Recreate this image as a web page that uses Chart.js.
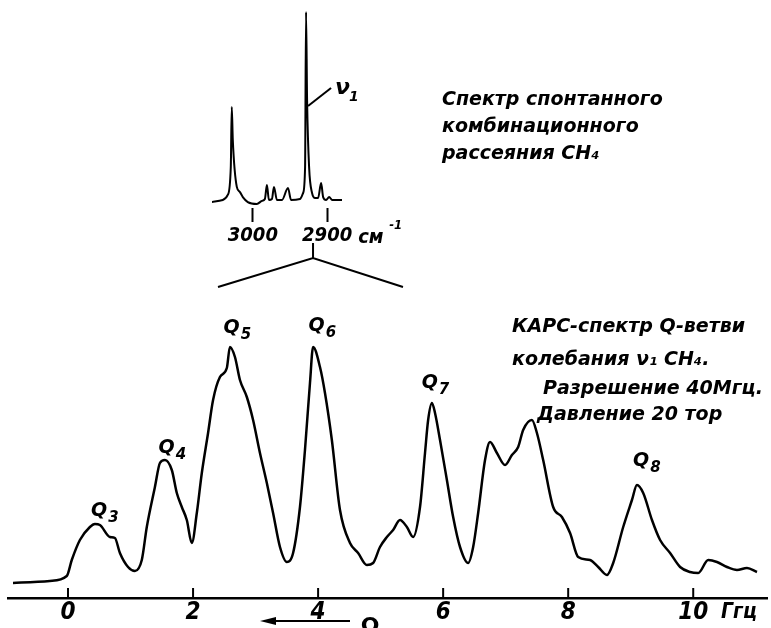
<!DOCTYPE html>
<html>
<head>
<meta charset="utf-8">
<script src="https://cdn.jsdelivr.net/npm/chart.js@4.4.0/dist/chart.umd.min.js"></script>
<style>
  html, body { margin: 0; padding: 0; background: #fff; overflow: hidden; }
  #wrap { position: relative; width: 771px; height: 628px; }
  #main { position: absolute; left: 0; top: 0; width: 771px; height: 628px; }
  #inset { position: absolute; left: 190px; top: 0; width: 240px; height: 300px; }
</style>
</head>
<body>
<div id="wrap">
  <div id="main"><canvas id="carsChart"></canvas></div>
  <div id="inset"><canvas id="ramanChart"></canvas></div>
</div>
<script>
// CARS spectrum of the CH4 Q-branch, frequency offset in GHz
const carsShift = [
  -0.88, -0.29, -0.02, 0.06, 0.19, 0.35, 0.43, 0.51, 0.67, 0.75, 0.83, 0.96,
  1.07, 1.18, 1.26, 1.39, 1.47, 1.55, 1.66, 1.74, 1.82, 1.90, 1.98,
  2.06, 2.14, 2.24, 2.32, 2.43, 2.54, 2.59, 2.67, 2.75, 2.86, 2.96,
  3.07, 3.18, 3.28, 3.39, 3.50, 3.60, 3.71, 3.79, 3.87, 3.92,
  4.03, 4.11, 4.22, 4.35, 4.51, 4.64, 4.78, 4.88, 4.99,
  5.10, 5.20, 5.31, 5.42, 5.52, 5.63, 5.71, 5.76, 5.82, 5.87, 5.95,
  6.06, 6.16, 6.27, 6.40, 6.48, 6.56, 6.67, 6.75, 6.86, 6.99,
  7.10, 7.20, 7.28, 7.42, 7.50, 7.60, 7.76, 7.90,
  8.03, 8.16, 8.35, 8.48, 8.62, 8.72, 8.88,
  9.02, 9.10, 9.20, 9.34, 9.47, 9.63, 9.79, 9.95,
  10.08, 10.24, 10.38, 10.54, 10.70, 10.86, 11.02
];
const carsSignal = [
  6.0, 6.8, 8.8, 15.2, 23.2, 28.4, 29.6, 29.2, 24.4, 24.0, 18.0, 12.4,
  10.8, 15.2, 28.4, 44.4, 54.0, 55.2, 51.2, 42.0, 36.4, 31.2, 22.0,
  34.0, 50.0, 66.0, 79.2, 88.4, 92.0, 100.4, 96.4, 87.2, 80.4, 71.2,
  58.0, 46.0, 34.0, 20.4, 14.4, 18.0, 36.4, 59.2, 86.0, 100.4,
  92.4, 82.0, 63.2, 35.2, 22.0, 18.0, 13.2, 14.0, 20.4,
  24.4, 27.2, 31.2, 28.4, 24.4, 36.4, 58.0, 71.2, 78.0, 74.0, 63.2,
  47.2, 32.4, 20.4, 14.0, 20.4, 34.0, 55.2, 62.4, 58.0, 53.2,
  57.2, 60.4, 67.2, 71.2, 66.0, 55.2, 36.4, 32.4,
  26.0, 16.4, 15.2, 12.4, 9.2, 14.0, 28.4,
  39.2, 45.2, 42.0, 31.2, 23.2, 18.0, 12.4, 10.4,
  10.0, 15.2, 14.4, 12.4, 11.2, 12.0, 10.4
];

// spontaneous Raman spectrum of CH4 (inset), cm-1
const ramanWavenumber = [
  3055.4, 3040.5, 3033.8, 3029.7, 3028.4, 3027.0, 3021.6, 3017.6, 3013.5, 3006.8,
  2994.6, 2987.8, 2983.8, 2981.1, 2978.4, 2974.3, 2971.6, 2967.6, 2960.8, 2952.7,
  2948.6, 2936.5, 2932.4, 2929.7, 2928.4, 2927.0, 2924.3, 2920.3, 2916.2, 2912.2,
  2908.1, 2905.4, 2901.4, 2897.3, 2893.2, 2879.7
];
const ramanSignal = [
  1.0, 2.1, 4.7, 19.3, 50.5, 33.3, 8.9, 6.3, 3.6, 1.0,
  0.0, 1.6, 2.6, 9.9, 2.1, 2.6, 8.9, 2.1, 2.1, 8.3,
  2.1, 2.6, 5.7, 19.3, 100.0, 54.2, 19.3, 5.7, 3.1, 3.1,
  10.9, 3.6, 2.1, 3.6, 2.1, 2.1
];

const hzTicks = [0, 2, 4, 6, 8, 10];
const cmTicks = [3000, 2900];

// Q-branch line labels, placed above each peak
const qNames = ['3', '4', '5', '6', '7', '8'];
const qLabelHz = [0.58, 1.66, 2.70, 4.06, 5.87, 9.25];
const qLabelLevel = [35, 60, 108, 109, 86, 55];

const carsNotes = [
  ['КАРС-спектр Q-ветви', 512, 327],
  ['колебания ν₁ CH₄.', 512, 360],
  ['Разрешение 40Мгц.', 543, 389],
  ['Давление 20 тор', 537, 415]
];
const ramanNotes = [
  ['Спектр спонтанного', 442, 100],
  ['комбинационного', 442, 127],
  ['рассеяния CH₄', 442, 154]
];

const TEXT_FONT = '"DejaVu Sans", sans-serif';
const NARROW_FONT = '"DejaVu Sans Condensed", "Liberation Sans Narrow", "DejaVu Sans", sans-serif';

const carsDecor = {
  id: 'carsDecor',
  afterDraw(chart) {
    const ctx = chart.ctx;
    const xs = chart.scales.x, ys = chart.scales.y;
    const bottom = chart.chartArea.bottom;
    ctx.save();
    ctx.strokeStyle = '#000';
    ctx.fillStyle = '#000';
    ctx.lineWidth = 2;
    // tick marks pointing up from the axis
    hzTicks.forEach(v => {
      const x = xs.getPixelForValue(v);
      ctx.beginPath();
      ctx.moveTo(x, bottom);
      ctx.lineTo(x, bottom - 10);
      ctx.stroke();
    });
    // Q labels
    qNames.forEach((n, i) => {
      const x = xs.getPixelForValue(qLabelHz[i]);
      const y = ys.getPixelForValue(qLabelLevel[i]);
      ctx.font = 'italic bold 19px ' + TEXT_FONT;
      const wq = ctx.measureText('Q').width;
      ctx.font = 'italic bold 15px ' + TEXT_FONT;
      const ws = ctx.measureText(n).width;
      const x0 = x - (wq + ws) / 2;
      ctx.textBaseline = 'alphabetic';
      ctx.textAlign = 'left';
      ctx.font = 'italic bold 19px ' + TEXT_FONT;
      ctx.fillText('Q', x0, y + 5);
      ctx.font = 'italic bold 15px ' + TEXT_FONT;
      ctx.fillText(n, x0 + wq + 1, y + 11);
    });
    // descriptive text
    ctx.font = 'italic bold 19px ' + TEXT_FONT;
    ctx.textBaseline = 'middle';
    carsNotes.forEach(([t, x, y]) => ctx.fillText(t, x, y));
    ramanNotes.forEach(([t, x, y]) => ctx.fillText(t, x, y));
    // unit and direction arrow
    ctx.font = 'italic bold 21px ' + NARROW_FONT;
    ctx.fillText('Ггц', 721, 613);
    ctx.lineWidth = 2;
    ctx.beginPath();
    ctx.moveTo(264, 621);
    ctx.lineTo(350, 621);
    ctx.stroke();
    ctx.beginPath();
    ctx.moveTo(260, 621);
    ctx.lineTo(276, 617);
    ctx.lineTo(276, 625);
    ctx.closePath();
    ctx.fill();
    ctx.font = 'bold 22px ' + TEXT_FONT;
    ctx.textAlign = 'center';
    ctx.fillText('Ω', 370, 627);
    ctx.restore();
  }
};

const ramanDecor = {
  id: 'ramanDecor',
  afterDraw(chart) {
    const ctx = chart.ctx;
    const xs = chart.scales.x, ys = chart.scales.y;
    const ox = 190;
    ctx.save();
    ctx.strokeStyle = '#000';
    ctx.fillStyle = '#000';
    ctx.lineWidth = 2;
    // nu1 leader
    const px = xs.getPixelForValue(2928.4), py = ys.getPixelForValue(51);
    ctx.beginPath();
    ctx.moveTo(px + 2, py);
    ctx.lineTo(px + 25, py - 18);
    ctx.stroke();
    ctx.font = 'italic bold 22px ' + TEXT_FONT;
    ctx.textBaseline = 'middle';
    ctx.textAlign = 'left';
    ctx.fillText('ν', px + 29, py - 18);
    ctx.font = 'italic bold 14px ' + TEXT_FONT;
    ctx.fillText('1', px + 43, py - 9);
    // unit after 2900
    const x29 = xs.getPixelForValue(2900);
    ctx.font = 'italic bold 20px ' + NARROW_FONT;
    ctx.fillText('см', x29 + 31, 238);
    ctx.font = 'italic bold 13px ' + NARROW_FONT;
    ctx.fillText('-1', x29 + 62, 226);
    // bracket pointing to the expanded CARS region
    const ax = xs.getPixelForValue(2919);
    ctx.beginPath();
    ctx.moveTo(ax, 243);
    ctx.lineTo(ax, 258);
    ctx.moveTo(218 - ox, 287);
    ctx.lineTo(ax, 258);
    ctx.lineTo(403 - ox, 287);
    ctx.stroke();
    ctx.restore();
  }
};

new Chart(document.getElementById('carsChart'), {
  type: 'line',
  data: {
    datasets: [{
      data: carsShift.map((x, i) => ({ x: x, y: carsSignal[i] })),
      borderColor: '#000',
      borderWidth: 2.5,
      pointRadius: 0,
      cubicInterpolationMode: 'monotone',
      borderJoinStyle: 'round'
    }]
  },
  options: {
    responsive: true,
    maintainAspectRatio: false,
    animation: false,
    layout: { padding: { left: 8, right: 4, top: 0, bottom: 0 } },
    plugins: { legend: { display: false }, tooltip: { enabled: false } },
    scales: {
      x: {
        type: 'linear',
        min: -0.96,
        max: 11.18,
        afterBuildTicks: s => { s.ticks = hzTicks.map(v => ({ value: v })); },
        border: { display: true, color: '#000', width: 2.5 },
        grid: { drawOnChartArea: false, drawTicks: false },
        ticks: {
          color: '#000',
          padding: 3,
          maxRotation: 0,
          autoSkip: false,
          callback: v => String(v),
          font: { family: NARROW_FONT, size: 24, style: 'italic', weight: 'bold', lineHeight: 1 }
        }
      },
      y: { display: false, min: 0, max: 239.2 }
    }
  },
  plugins: [carsDecor]
});

new Chart(document.getElementById('ramanChart'), {
  type: 'line',
  data: {
    datasets: [{
      data: ramanWavenumber.map((w, i) => ({ x: w, y: ramanSignal[i] })),
      borderColor: '#000',
      borderWidth: 2,
      pointRadius: 0,
      cubicInterpolationMode: 'monotone'
    }]
  },
  options: {
    responsive: true,
    maintainAspectRatio: false,
    animation: false,
    layout: { padding: { left: 22, right: 88, top: 2, bottom: 50 } },
    plugins: { legend: { display: false }, tooltip: { enabled: false } },
    scales: {
      x: {
        type: 'linear',
        reverse: true,
        min: 2880,
        max: 3055,
        afterBuildTicks: s => { s.ticks = cmTicks.map(v => ({ value: v })); },
        border: { display: false },
        grid: { drawOnChartArea: false, drawTicks: true, tickLength: 14, tickColor: '#000', tickWidth: 2 },
        ticks: {
          color: '#000',
          padding: 4,
          maxRotation: 0,
          autoSkip: false,
          callback: v => String(v),
          font: { family: NARROW_FONT, size: 20, style: 'italic', weight: 'bold', lineHeight: 1 }
        }
      },
      y: { display: false, min: -2.1, max: 105.2 }
    }
  },
  plugins: [ramanDecor]
});
</script>
</body>
</html>
